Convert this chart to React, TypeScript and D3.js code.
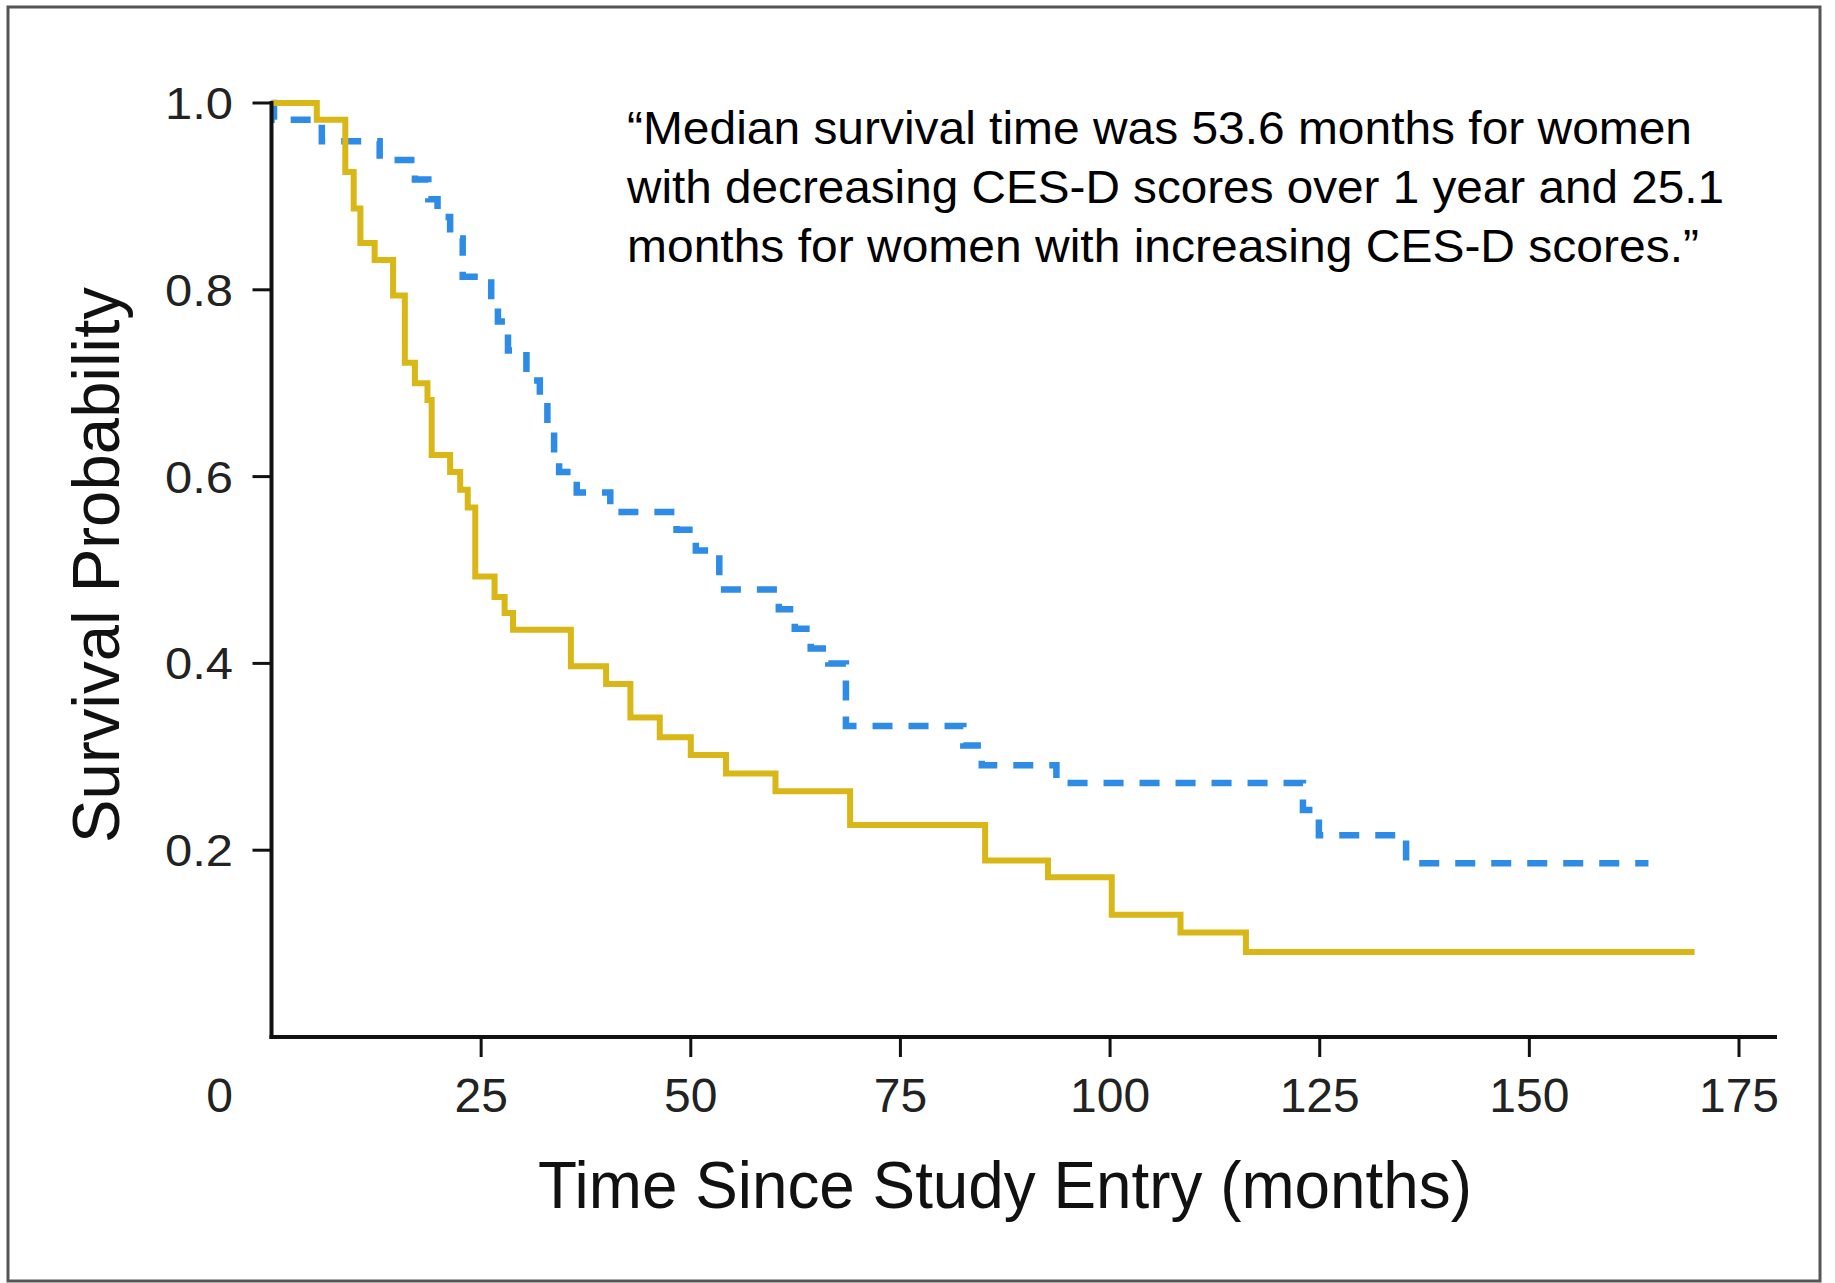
import { useEffect, useRef } from 'react';
import * as d3 from 'd3';

// decreasing CES-D scores (blue, dashed)
const decreasingTime = [0, 0.3, 6.0, 12.9, 17.1, 18.7, 19.8, 21.3, 22.8, 26.2, 27.0, 28.2, 30.4, 32.0, 32.9, 33.7, 34.3, 36.4, 40.4, 48.3, 50.6, 53.4, 60.5, 62.4, 64.3, 66.4, 68.5, 82.5, 84.7, 93.6, 123.0, 124.9, 135.3, 164.2];
const decreasingSurv = [1.0, 0.982, 0.959, 0.939, 0.918, 0.897, 0.878, 0.855, 0.814, 0.789, 0.766, 0.735, 0.703, 0.680, 0.648, 0.622, 0.605, 0.583, 0.562, 0.543, 0.521, 0.479, 0.458, 0.437, 0.416, 0.400, 0.333, 0.312, 0.291, 0.272, 0.243, 0.216, 0.186, 0.186];

// increasing CES-D scores (yellow, solid)
const increasingTime = [0, 5.4, 8.8, 9.8, 10.6, 12.3, 14.5, 15.9, 17.1, 18.6, 19.1, 21.3, 22.5, 23.4, 24.3, 26.6, 27.8, 28.8, 35.7, 39.9, 42.8, 46.3, 50.0, 54.2, 60.1, 69.0, 85.1, 92.6, 100.2, 108.4, 116.2, 169.7];
const increasingSurv = [1.0, 0.982, 0.926, 0.887, 0.850, 0.832, 0.794, 0.722, 0.700, 0.682, 0.623, 0.605, 0.586, 0.567, 0.493, 0.471, 0.454, 0.436, 0.397, 0.378, 0.342, 0.321, 0.302, 0.282, 0.263, 0.227, 0.189, 0.171, 0.131, 0.112, 0.091, 0.091];

const xTicks = [25, 50, 75, 100, 125, 150, 175];
const yTicks = [0.2, 0.4, 0.6, 0.8, 1.0];

const quoteLines = [
    '\u201CMedian survival time was 53.6 months for women',
    'with decreasing CES-D scores over 1 year and 25.1',
    'months for women with increasing CES-D scores.\u201D',
];
const quoteWidths = [1065, 1097, 1072];

const FONT = '"Liberation Sans", Arial, Helvetica, sans-serif';

const App = () => {
    const svgRef = useRef<SVGSVGElement>(null);

    useEffect(() => {
        const svg = d3.select(svgRef.current);
        svg.selectAll('*').remove();

        const x = d3.scaleLinear().domain([0, 175]).range([271.5, 1739]);
        const y = d3.scaleLinear().domain([0, 1]).range([1037, 103]);

        // outer frame
        svg.append('rect')
            .attr('x', 8).attr('y', 7)
            .attr('width', 1812).attr('height', 1274)
            .attr('fill', '#fff')
            .attr('stroke', '#555')
            .attr('stroke-width', 3);

        const line = d3.line<[number, number]>()
            .x((d) => x(d[0]))
            .y((d) => y(d[1]))
            .curve(d3.curveStepAfter);

        const blue = decreasingTime.map((t, i) => [t, decreasingSurv[i]] as [number, number]);
        const yellow = increasingTime.map((t, i) => [t, increasingSurv[i]] as [number, number]);

        svg.append('path')
            .attr('d', line(blue) as string)
            .attr('fill', 'none')
            .attr('stroke', '#2e8be6')
            .attr('stroke-width', 6.5)
            .attr('stroke-dasharray', '20 16');

        svg.append('path')
            .attr('d', line(yellow) as string)
            .attr('fill', 'none')
            .attr('stroke', '#d8b717')
            .attr('stroke-width', 6)
            .attr('stroke-linejoin', 'miter');

        // axes
        svg.append('line')
            .attr('x1', x(0)).attr('x2', x(0))
            .attr('y1', y(1) - 2).attr('y2', y(0) + 2)
            .attr('stroke', '#111').attr('stroke-width', 4);
        svg.append('line')
            .attr('x1', x(0) - 2).attr('x2', 1777)
            .attr('y1', y(0)).attr('y2', y(0))
            .attr('stroke', '#111').attr('stroke-width', 4);

        svg.selectAll('.ytick')
            .data(yTicks)
            .enter()
            .append('line')
            .attr('x1', x(0) - 19).attr('x2', x(0))
            .attr('y1', (d) => y(d)).attr('y2', (d) => y(d))
            .attr('stroke', '#111').attr('stroke-width', 3);

        svg.selectAll('.ylabel')
            .data(yTicks)
            .enter()
            .append('text')
            .attr('x', 233)
            .attr('y', (d) => y(d) + 16)
            .attr('text-anchor', 'end')
            .attr('textLength', 68)
            .attr('lengthAdjust', 'spacingAndGlyphs')
            .style('font-family', FONT)
            .style('font-size', '45px')
            .attr('fill', '#222')
            .text((d) => d.toFixed(1));

        svg.selectAll('.xtick')
            .data(xTicks)
            .enter()
            .append('line')
            .attr('x1', (d) => x(d)).attr('x2', (d) => x(d))
            .attr('y1', y(0)).attr('y2', y(0) + 20)
            .attr('stroke', '#111').attr('stroke-width', 3);

        svg.selectAll('.xlabel')
            .data([0, ...xTicks])
            .enter()
            .append('text')
            .attr('x', (d) => (d === 0 ? x(0) - 52 : x(d)))
            .attr('y', 1112)
            .attr('text-anchor', 'middle')
            .style('font-family', FONT)
            .style('font-size', '48px')
            .attr('fill', '#222')
            .text((d) => String(d));

        svg.append('text')
            .attr('x', 1005)
            .attr('y', 1208)
            .attr('text-anchor', 'middle')
            .attr('textLength', 934)
            .attr('lengthAdjust', 'spacingAndGlyphs')
            .style('font-family', FONT)
            .style('font-size', '67px')
            .attr('fill', '#111')
            .text('Time Since Study Entry (months)');

        svg.append('text')
            .attr('transform', 'translate(119,565) rotate(-90)')
            .attr('text-anchor', 'middle')
            .attr('textLength', 556)
            .attr('lengthAdjust', 'spacingAndGlyphs')
            .style('font-family', FONT)
            .style('font-size', '67px')
            .attr('fill', '#111')
            .text('Survival Probability');

        svg.selectAll('.quote')
            .data(quoteLines)
            .enter()
            .append('text')
            .attr('x', 627)
            .attr('y', (_d, i) => 144 + i * 59)
            .attr('textLength', (_d, i) => quoteWidths[i])
            .attr('lengthAdjust', 'spacingAndGlyphs')
            .style('font-family', FONT)
            .style('font-size', '47px')
            .attr('fill', '#000')
            .text((d) => d);
    }, []);

    return (
        <svg
            ref={svgRef}
            width={1835}
            height={1283}
            style={{ position: 'absolute', left: 0, top: 0, background: '#fff' }}
        />
    );
};

export default App;
